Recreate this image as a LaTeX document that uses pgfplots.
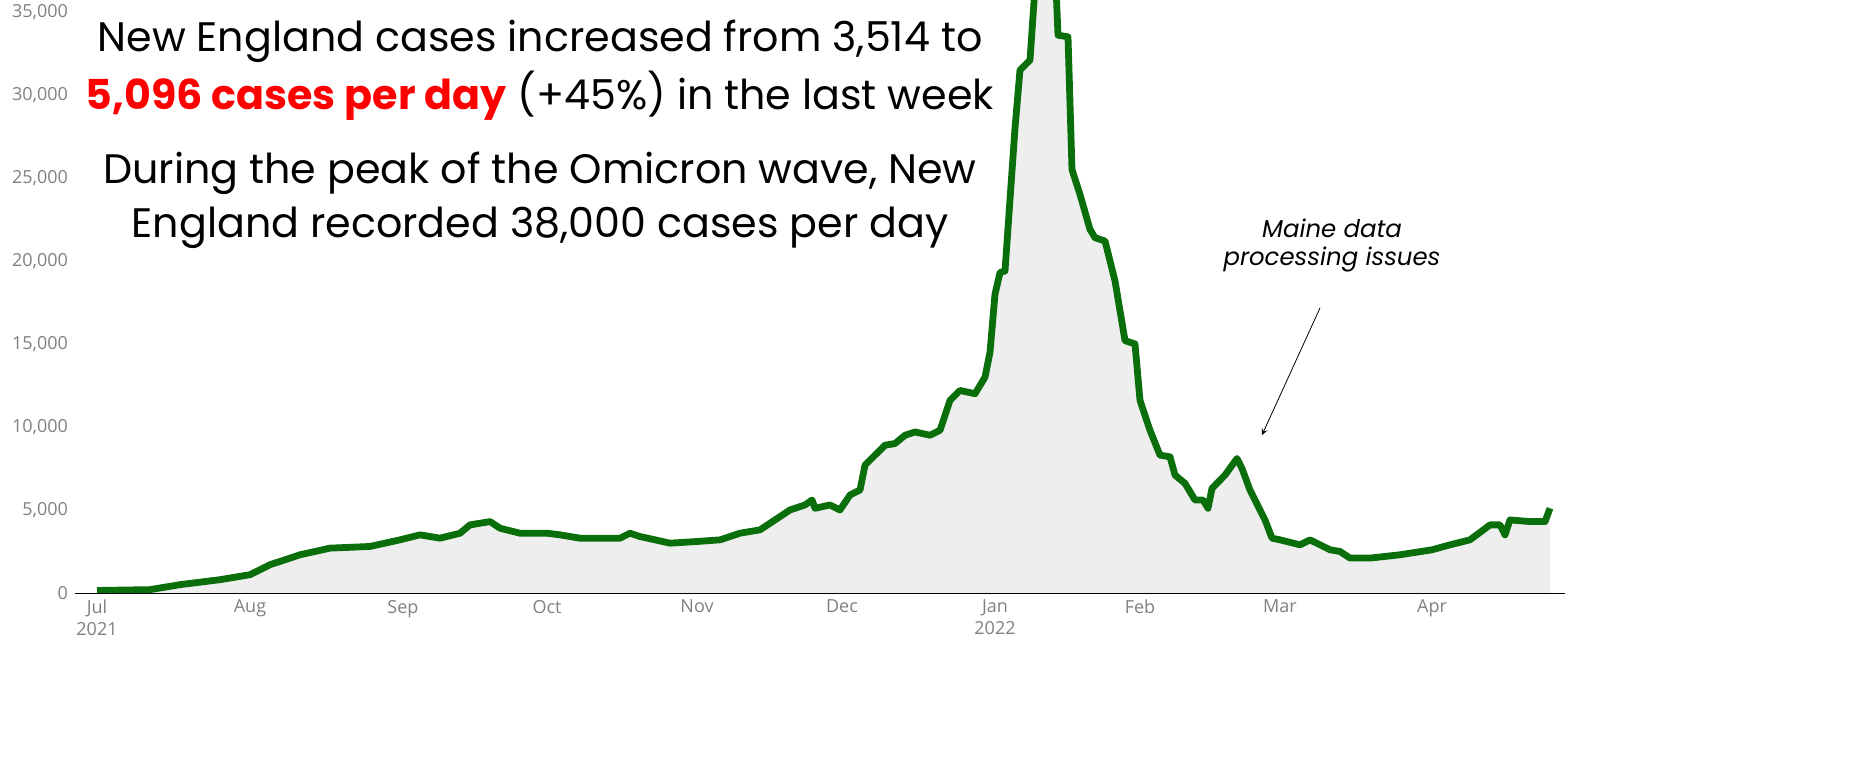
\documentclass[border=0pt]{standalone}
\usepackage{pgfplots}
\pgfplotsset{compat=1.18}
\usepackage{fontspec}
\setmainfont{Open Sans}
\newfontfamily\titlefont{Poppins}
\definecolor{lgreen}{RGB}{10,110,10}
\begin{document}
\begin{tikzpicture}
\pgfplotstableread{
x y
97 150
150 200
180 500
220 800
250 1100
270 1700
300 2300
330 2700
370 2800
400 3200
420 3500
440 3300
460 3600
470 4100
490 4300
500 3900
520 3600
547 3600
560 3500
580 3300
600 3300
620 3300
630 3600
640 3400
670 3000
697 3100
720 3200
740 3600
760 3800
775 4400
790 5000
805 5300
812 5600
815 5100
830 5300
840 5000
850 5900
860 6200
865 7700
875 8300
885 8900
895 9000
905 9500
915 9700
930 9500
940 9800
950 11600
960 12200
975 12000
985 13000
990 14500
995 18000
1000 19300
1005 19400
1010 23700
1015 28000
1020 31500
1030 32100
1035 36500
1045 38500
1055 38000
1058 33600
1068 33500
1072 25500
1080 24000
1090 21900
1095 21400
1105 21200
1115 18800
1125 15200
1135 15000
1140 11600
1150 9800
1160 8300
1170 8200
1175 7100
1185 6600
1195 5600
1203 5600
1208 5100
1212 6300
1225 7100
1237 8100
1242 7500
1250 6200
1265 4400
1272 3300
1280 3200
1300 2900
1310 3200
1330 2600
1340 2500
1350 2100
1370 2100
1400 2300
1432 2600
1450 2900
1470 3200
1490 4100
1500 4100
1505 3500
1510 4400
1530 4300
1545 4300
1550 5100
}\data
\begin{axis}[
  x=0.5pt, y=0.0083007pt,
  xmin=75, xmax=1565, ymin=0, ymax=35720,
  axis x line=bottom, axis y line=left,
  x axis line style={black, thin, -},
  y axis line style={draw=none},
  clip=false,
  xtick={97,250,403,547,697,842,995,1140,1280,1432},
  xticklabels={{Jul\\2021},Aug,Sep,Oct,Nov,Dec,{Jan\\2022},Feb,Mar,Apr},
  xticklabel style={align=center, font=\fontsize{9}{11}\selectfont, text=gray},
  ytick={0,5000,...,35000},
  yticklabels={0,{5,000},{10,000},{15,000},{20,000},{25,000},{30,000},{35,000}},
  yticklabel style={font=\fontsize{9}{11}\selectfont, text=gray},
  major tick length=0pt,
  scaled y ticks=false,
]
\begin{scope}
\clip (axis cs:75,0) rectangle (axis cs:1565,35720);
\addplot[fill=gray!13, draw=none] table[x=x,y=y]{\data} \closedcycle;
\addplot[lgreen, line width=3.4pt, line join=round] table[x=x,y=y]{\data};
\end{scope}
\node[font=\titlefont\fontsize{20.6}{24}\selectfont] at (axis cs:540,33250) {New England cases increased from 3,514 to};
\node[font=\titlefont\fontsize{20.6}{24}\selectfont] at (axis cs:540,29950) {\textcolor{red}{\bfseries 5,096 cases per day} (+45\%) in the last week};
\node[font=\titlefont\fontsize{20.6}{24}\selectfont] at (axis cs:540,25300) {During the peak of the Omicron wave, New};
\node[font=\titlefont\fontsize{20.6}{24}\selectfont] at (axis cs:540,22000) {England recorded 38,000 cases per day};
\node[font=\titlefont\itshape\fontsize{12.2}{14}\selectfont] at (axis cs:1332,21986) {Maine data};
\node[font=\titlefont\itshape\fontsize{12.2}{14}\selectfont] at (axis cs:1332,20059) {processing issues};
\draw[-stealth, thin] (axis cs:1320,17167) -- (axis cs:1262,9517);
\coordinate (bl) at (axis cs:0,-10903);
\coordinate (tr) at (axis cs:1864,35720);
\end{axis}
\pgfresetboundingbox
\path (bl) rectangle (tr);
\end{tikzpicture}
\end{document}
